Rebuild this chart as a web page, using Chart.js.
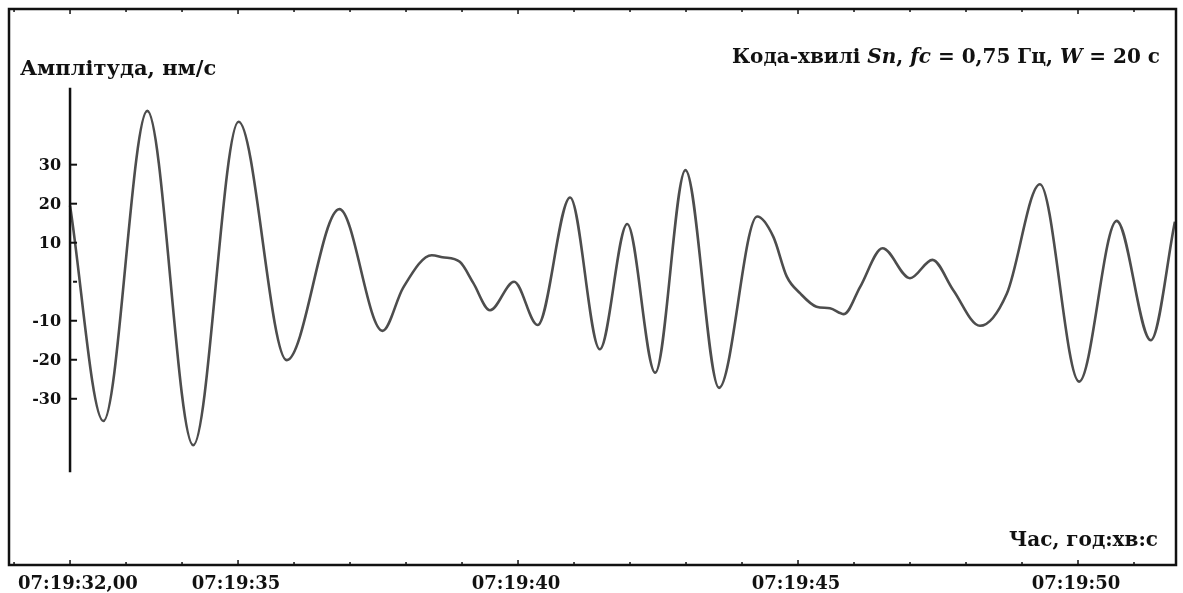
<!DOCTYPE html>
<html>
<head>
<meta charset="utf-8">
<script src="https://cdn.jsdelivr.net/npm/chart.js@4/dist/chart.umd.min.js"></script>
<style>
  html, body { margin: 0; padding: 0; background: #fff; }
  canvas { display: block; }
</style>
</head>
<body>
<canvas id="coda" width="1183" height="593"></canvas>
<script>
// Coda wave record, time in seconds after 07:19:00 (peaks, troughs and shoulders)
const times = [
  32.00, 32.595, 33.38, 34.20, 35.01, 35.87, 36.81, 37.58, 37.95, 38.46,
  38.65, 38.96, 39.20, 39.50, 39.93, 40.35, 40.93, 41.46, 41.95, 42.45,
  42.99, 43.59, 44.27, 44.56, 44.80, 45.04, 45.33, 45.57, 45.82, 46.11,
  46.51, 47.00, 47.40, 47.77, 48.25, 48.73, 49.32, 50.02, 50.69, 51.30,
  51.73
];
const amplitude = [
  19.5, -35.7, 43.8, -41.9, 41.0, -20.1, 18.6, -12.6, -1.5, 6.8,
  6.3, 5.1, -0.3, -7.3, 0, -11.1, 21.6, -17.3, 14.8, -23.3,
  28.6, -27.2, 16.7, 11.5, 1.3, -3, -6.4, -6.8, -8.3, -1.3,
  8.6, 0.9, 5.6, -2.1, -11.3, -3, 25.0, -25.6, 15.6, -15.0,
  15.4
];

// Axis ticks
const xMinorTicks = [31, 32, 33, 34, 35, 36, 37, 38, 39, 40, 41, 42, 43, 44, 45, 46, 47, 48, 49, 50, 51];
const xMajorTicks = [32, 35, 40, 45, 50];
const xTickLabels = ['07:19:32,00', '07:19:35', '07:19:40', '07:19:45', '07:19:50'];
const yTicks = [30, 20, 10, 0, -10, -20, -30];
const yTickLabels = ['30', '20', '10', '', '-10', '-20', '-30'];

const yAxisTitle = 'Амплітуда, нм/с';
const xAxisTitle = 'Час, год:хв:с';
const titleParts = [
  ['Кода-хвилі ', false], ['Sn', true], [', ', false], ['fc', true],
  [' = 0,75 Гц, ', false], ['W', true], [' = 20 с', false]
];

const serif = '"DejaVu Serif", "Liberation Serif", serif';

// Frame, inner amplitude axis, ticks and texts
const framePlugin = {
  id: 'frame',
  afterDraw(chart) {
    const ctx = chart.ctx;
    const area = chart.chartArea;
    const xs = chart.scales.x;
    const ys = chart.scales.y;
    ctx.save();

    // outer frame
    ctx.strokeStyle = '#111';
    ctx.lineWidth = 2.5;
    ctx.strokeRect(area.left, area.top, area.right - area.left, area.bottom - area.top);

    // second ticks on top and bottom edges
    ctx.lineWidth = 1.5;
    xMinorTicks.forEach(t => {
      const px = xs.getPixelForValue(t);
      const len = xMajorTicks.includes(t) ? 5 : 3;
      ctx.beginPath();
      ctx.moveTo(px, area.bottom);
      ctx.lineTo(px, area.bottom - len);
      ctx.moveTo(px, area.top);
      ctx.lineTo(px, area.top + len);
      ctx.stroke();
    });

    // inner amplitude axis at 07:19:32
    const ax = xs.getPixelForValue(32);
    ctx.lineWidth = 2.5;
    ctx.beginPath();
    ctx.moveTo(ax, ys.getPixelForValue(49.7));
    ctx.lineTo(ax, ys.getPixelForValue(-48.8));
    ctx.stroke();

    ctx.fillStyle = '#111';
    ctx.font = 'bold 16px ' + serif;
    ctx.textAlign = 'right';
    ctx.textBaseline = 'middle';
    yTicks.forEach((v, i) => {
      const py = ys.getPixelForValue(v);
      ctx.lineWidth = 2;
      ctx.beginPath();
      ctx.moveTo(v === 0 ? ax + 3 : ax, py);
      ctx.lineTo(ax + 7, py);
      ctx.stroke();
      if (yTickLabels[i]) ctx.fillText(yTickLabels[i], ax - 9, py + 1);
    });

    // time labels, the first one starts at the frame edge
    ctx.font = 'bold 18px ' + serif;
    ctx.textBaseline = 'alphabetic';
    xMajorTicks.forEach((t, i) => {
      if (i === 0) {
        ctx.textAlign = 'left';
        ctx.fillText(xTickLabels[i], 18, 589);
      } else {
        ctx.textAlign = 'center';
        ctx.fillText(xTickLabels[i], xs.getPixelForValue(t) - 2, 589);
      }
    });

    // axis titles
    ctx.font = 'bold 21px ' + serif;
    ctx.textAlign = 'left';
    ctx.fillText(yAxisTitle, 20, 75);
    ctx.font = 'bold 20px ' + serif;
    ctx.textAlign = 'right';
    ctx.fillText(xAxisTitle, 1158, 546);

    // title with italic symbols, right aligned
    const fontOf = it => (it ? 'italic bold 20px ' : 'bold 20px ') + serif;
    let total = 0;
    titleParts.forEach(p => { ctx.font = fontOf(p[1]); total += ctx.measureText(p[0]).width; });
    let x = 1160 - total;
    ctx.textAlign = 'left';
    titleParts.forEach(p => {
      ctx.font = fontOf(p[1]);
      ctx.fillText(p[0], x, 63);
      x += ctx.measureText(p[0]).width;
    });

    ctx.restore();
  }
};

new Chart(document.getElementById('coda'), {
  type: 'line',
  data: {
    datasets: [{
      data: times.map((t, i) => ({ x: t, y: amplitude[i] })),
      borderColor: '#4d4d4d',
      borderWidth: 2.6,
      pointRadius: 0,
      fill: false,
      cubicInterpolationMode: 'monotone'
    }]
  },
  options: {
    responsive: false,
    animation: false,
    layout: { padding: { left: 9, top: 9, right: 7, bottom: 28 } },
    plugins: { legend: { display: false }, tooltip: { enabled: false } },
    scales: {
      x: { type: 'linear', min: 30.91, max: 51.75, display: false },
      y: { min: -72.6, max: 69.9, display: false }
    }
  },
  plugins: [framePlugin]
});
</script>
</body>
</html>
